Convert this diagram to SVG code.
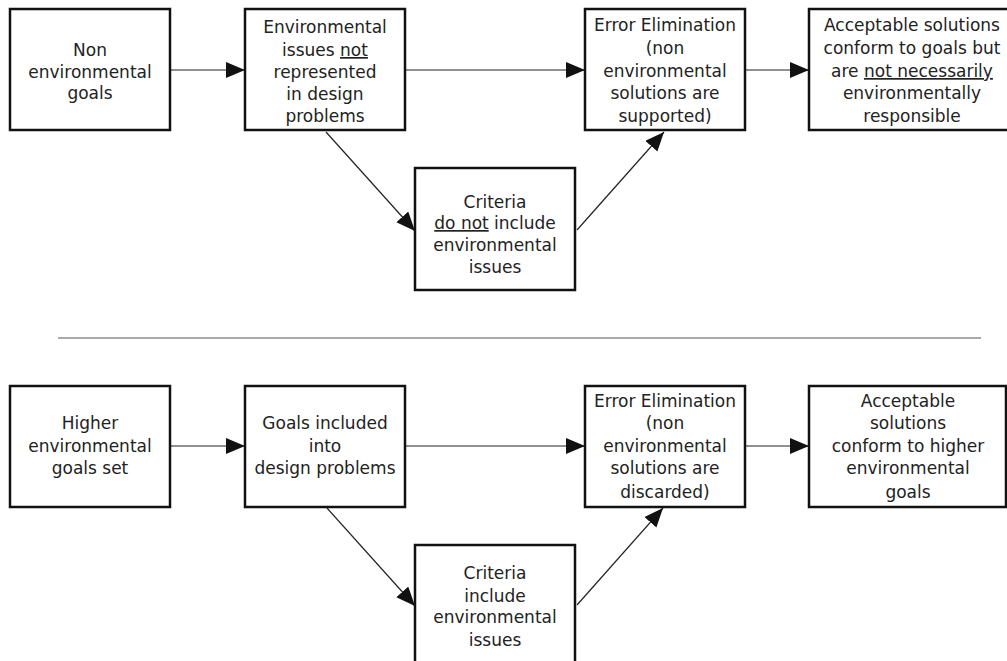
<svg xmlns="http://www.w3.org/2000/svg" width="1007" height="661" viewBox="0 0 1007 661">
<style>
.box{fill:#fff;stroke:#111;stroke-width:2.5}
.t{font-family:"DejaVu Sans","Liberation Sans",sans-serif;font-size:17px;fill:#222;text-anchor:middle}
.u{text-decoration:underline}
.c{fill:none;stroke:#222;stroke-width:1.2}
</style>
<defs>
<marker id="ah" markerUnits="userSpaceOnUse" markerWidth="22" markerHeight="20" refX="19" refY="8" orient="auto">
<path d="M0,0 L19,8 L0,16 z" fill="#111"/>
</marker>
</defs>
<rect width="1007" height="661" fill="#fff"/>
<g id="connectors">
<line class="c" x1="171" y1="70" x2="245" y2="70" marker-end="url(#ah)"/>
<line class="c" x1="406" y1="70" x2="585" y2="70" marker-end="url(#ah)"/>
<line class="c" x1="746" y1="70" x2="809" y2="70" marker-end="url(#ah)"/>
<line class="c" x1="326" y1="132" x2="415" y2="231" marker-end="url(#ah)"/>
<line class="c" x1="577" y1="230" x2="664" y2="132" marker-end="url(#ah)"/>
<line class="c" x1="171" y1="446" x2="245" y2="446" marker-end="url(#ah)"/>
<line class="c" x1="406" y1="446" x2="585" y2="446" marker-end="url(#ah)"/>
<line class="c" x1="746" y1="446" x2="809" y2="446" marker-end="url(#ah)"/>
<line class="c" x1="327" y1="508" x2="415" y2="606" marker-end="url(#ah)"/>
<line class="c" x1="577" y1="605" x2="663" y2="508" marker-end="url(#ah)"/>
<line x1="58" y1="338" x2="981" y2="338" stroke="#555" stroke-width="1.2"/>
</g>
<g id="top-nonenv">
<rect class="box" x="10" y="9" width="160" height="121"/>
<text class="t" x="90" y="56">Non</text>
<text class="t" x="90" y="78">environmental</text>
<text class="t" x="90" y="99">goals</text>
</g>
<g id="top-issues">
<rect class="box" x="245" y="9" width="160" height="121"/>
<text class="t" x="325" y="33">Environmental</text>
<text class="t" x="325" y="56">issues <tspan class="u">not</tspan></text>
<text class="t" x="325" y="78">represented</text>
<text class="t" x="325" y="100">in design</text>
<text class="t" x="325" y="122">problems</text>
</g>
<g id="top-error">
<rect class="box" x="585" y="9" width="160" height="121"/>
<text class="t" x="665" y="31">Error Elimination</text>
<text class="t" x="665" y="54">(non</text>
<text class="t" x="665" y="77">environmental</text>
<text class="t" x="665" y="99">solutions are</text>
<text class="t" x="665" y="122">supported)</text>
</g>
<g id="top-accept">
<rect class="box" x="809" y="9" width="210" height="121"/>
<text class="t" x="912" y="31">Acceptable solutions</text>
<text class="t" x="912" y="54">conform to goals but</text>
<text class="t" x="912" y="77">are <tspan class="u">not necessarily</tspan></text>
<text class="t" x="912" y="99">environmentally</text>
<text class="t" x="912" y="122">responsible</text>
</g>
<g id="top-criteria">
<rect class="box" x="415" y="168" width="160" height="122"/>
<text class="t" x="495" y="208">Criteria</text>
<text class="t" x="495" y="229"><tspan class="u">do not</tspan> include</text>
<text class="t" x="495" y="251">environmental</text>
<text class="t" x="495" y="273">issues</text>
</g>
<g id="bot-higher">
<rect class="box" x="10" y="386" width="160" height="121"/>
<text class="t" x="90" y="429">Higher</text>
<text class="t" x="90" y="452">environmental</text>
<text class="t" x="90" y="474">goals set</text>
</g>
<g id="bot-goals">
<rect class="box" x="245" y="386" width="160" height="121"/>
<text class="t" x="325" y="429">Goals included</text>
<text class="t" x="325" y="452">into</text>
<text class="t" x="325" y="474">design problems</text>
</g>
<g id="bot-error">
<rect class="box" x="585" y="386" width="160" height="121"/>
<text class="t" x="665" y="407">Error Elimination</text>
<text class="t" x="665" y="429">(non</text>
<text class="t" x="665" y="452">environmental</text>
<text class="t" x="665" y="474">solutions are</text>
<text class="t" x="665" y="498">discarded)</text>
</g>
<g id="bot-accept">
<rect class="box" x="809" y="386" width="197" height="121"/>
<text class="t" x="908" y="407">Acceptable</text>
<text class="t" x="908" y="429">solutions</text>
<text class="t" x="908" y="452">conform to higher</text>
<text class="t" x="908" y="474">environmental</text>
<text class="t" x="908" y="498">goals</text>
</g>
<g id="bot-criteria">
<rect class="box" x="415" y="545" width="160" height="130"/>
<text class="t" x="495" y="579">Criteria</text>
<text class="t" x="495" y="602">include</text>
<text class="t" x="495" y="623">environmental</text>
<text class="t" x="495" y="646">issues</text>
</g>
</svg>
